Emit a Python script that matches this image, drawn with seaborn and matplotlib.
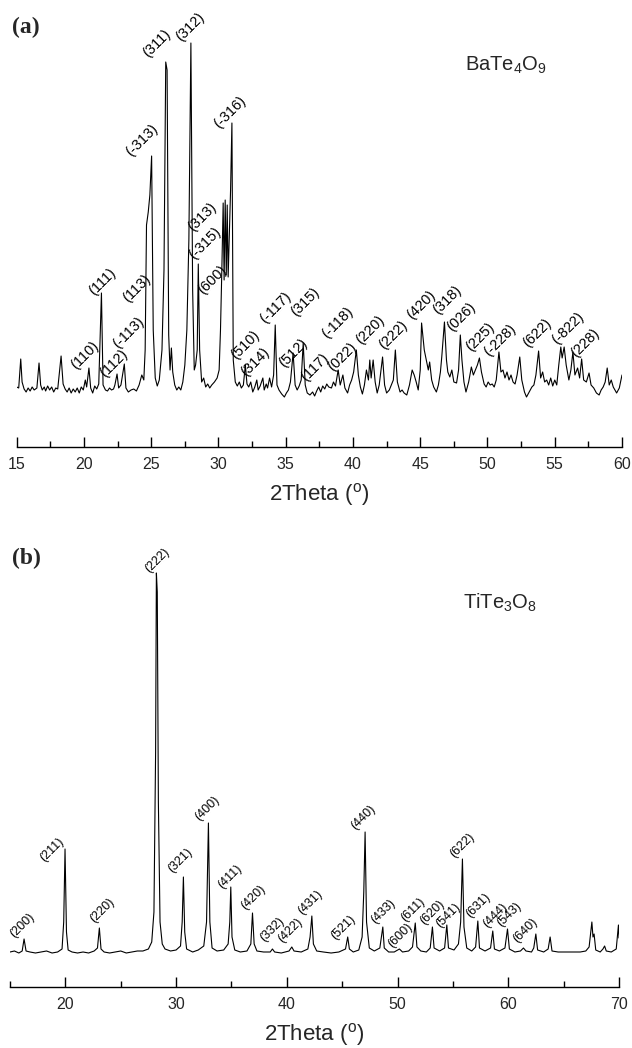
import matplotlib
matplotlib.use("Agg")
import matplotlib.pyplot as plt
import seaborn as sns
import pandas as pd
from matplotlib.ticker import MultipleLocator, FixedLocator

# ---------------- data: panel (a) BaTe4O9 ----------------
a_theta = [15.0, 15.15, 15.3, 15.4, 15.55, 15.7, 15.85, 16.0, 16.15, 16.3, 16.5, 16.66, 16.78, 16.9,
           17.05, 17.15, 17.3, 17.45, 17.6, 17.75, 17.9, 18.05, 18.3, 18.45, 18.6, 18.75, 18.9, 19.05,
           19.2, 19.35, 19.5, 19.65, 19.8, 19.95, 20.1, 20.2, 20.37, 20.5, 20.65, 20.8, 20.95, 21.1,
           21.3, 21.42, 21.6, 21.75, 21.9, 22.05, 22.2, 22.3, 22.46, 22.58, 22.75, 23.0, 23.12, 23.3,
           23.5, 23.7, 23.9, 24.1, 24.3, 24.45, 24.55, 24.65, 24.78, 24.9, 25.03, 25.15, 25.3, 25.45,
           25.6, 25.8, 25.95, 26.08, 26.18, 26.3, 26.4, 26.5, 26.6, 26.75, 26.9, 27.05, 27.2, 27.35,
           27.5, 27.65, 27.8, 27.95, 28.08, 28.2, 28.3, 28.42, 28.5, 28.6, 28.75, 28.9, 29.05, 29.2,
           29.35, 29.5, 29.7, 29.9, 30.05, 30.15, 30.25, 30.35, 30.42, 30.5, 30.58, 30.65, 30.72, 30.8,
           30.9, 31.0, 31.1, 31.25, 31.4, 31.55, 31.7, 31.85, 32.0, 32.12, 32.25, 32.4, 32.55, 32.7,
           32.85, 32.95, 33.1, 33.3, 33.4, 33.55, 33.65, 33.8, 33.95, 34.1, 34.22, 34.35, 34.5, 34.7,
           34.9, 35.05, 35.2, 35.35, 35.55, 35.7, 35.85, 36.0, 36.15, 36.3, 36.45, 36.6, 36.8, 37.0,
           37.15, 37.3, 37.45, 37.6, 37.75, 37.9, 38.05, 38.2, 38.4, 38.55, 38.7, 38.9, 39.05, 39.25,
           39.4, 39.6, 39.75, 39.9, 40.05, 40.25, 40.4, 40.55, 40.7, 40.85, 41.0, 41.15, 41.25, 41.35,
           41.5, 41.65, 41.8, 41.95, 42.2, 42.35, 42.5, 42.7, 42.85, 43.0, 43.15, 43.3, 43.5, 43.65,
           43.8, 44.0, 44.2, 44.4, 44.55, 44.7, 44.85, 45.0, 45.1, 45.3, 45.45, 45.6, 45.7, 45.85,
           46.0, 46.2, 46.35, 46.5, 46.6, 46.8, 46.95, 47.05, 47.2, 47.35, 47.5, 47.7, 47.85, 47.98,
           48.1, 48.25, 48.4, 48.6, 48.8, 48.95, 49.1, 49.25, 49.4, 49.55, 49.75, 49.9, 50.05, 50.2,
           50.35, 50.5, 50.65, 50.85, 51.0, 51.15, 51.3, 51.45, 51.6, 51.75, 51.9, 52.05, 52.2, 52.4,
           52.55, 52.75, 52.9, 53.1, 53.3, 53.45, 53.6, 53.8, 53.95, 54.1, 54.25, 54.4, 54.55, 54.7,
           54.85, 55.0, 55.15, 55.3, 55.45, 55.55, 55.7, 55.85, 56.05, 56.2, 56.35, 56.5, 56.7, 56.85,
           57.0, 57.15, 57.35, 57.55, 57.7, 57.9, 58.1, 58.3, 58.45, 58.6, 58.75, 58.9, 59.05, 59.2,
           59.35, 59.6, 59.8, 60.0]
a_int = [3, 2, 31, 8, 1, -2, 2, -1, 3, 0, 2, 27, 5, 0,
         3, -1, 4, 0, 3, -2, 2, 1, 34, 6, 1, -2, 2, -3,
         1, -2, 2, -3, 3, 0, 10, 3, 22, 2, -3, 4, 1, 6,
         97, 5, 0, -1, 2, 0, 1, 5, 16, 2, 5, 26, 2, -2,
         0, 1, -1, 5, 15, 10, 40, 165, 178, 195, 234, 60, 12, 4,
         10, 40, 120, 328, 320, 55, 20, 42, 18, 5, 0, 3, 0, 8,
         25, 60, 150, 347, 100, 20, 25, 40, 126, 40, 8, 12, 3, 6,
         2, 5, 8, 12, 20, 60, 120, 187, 110, 190, 115, 185, 113, 150,
         200, 267, 30, 8, 4, 8, 2, 5, 25, 6, 3, 8, -2, 3,
         10, 0, 4, 12, 0, 6, 2, 12, 3, 15, 65, 5, 0, -4,
         -7, -3, 0, 8, 37, 5, 0, 4, 10, 47, 5, -3, -5, -2,
         -6, -1, 3, -2, 4, 1, 6, 3, 2, 8, 4, 20, 5, 15,
         2, -3, 5, 10, 18, 40, 15, 3, -4, 5, 20, 10, 30, 12,
         30, 8, -3, 5, 33, 5, -3, 0, 5, 10, 40, 8, -2, 0,
         -3, -5, 5, 20, 15, 8, 0, 20, 67, 40, 30, 20, 28, 10,
         3, -2, 5, 18, 33, 68, 30, 18, 13, 20, 8, 7, 20, 55,
         30, 8, -2, 8, 23, 15, 20, 25, 32, 18, 6, 3, 8, 5,
         6, 3, 10, 38, 18, 20, 12, 18, 10, 15, 8, 6, 15, 33,
         10, -2, -7, -2, 3, 5, 15, 39, 12, 18, 8, 10, 5, 12,
         4, 10, 5, 25, 43, 32, 43, 25, 10, 20, 38, 15, 22, 12,
         31, 10, 8, 17, 5, 2, -3, -5, 0, 3, 8, 22, 5, 10,
         3, -3, 2, 15]

a_labels = ["(110)", "(111)", "(112)", "(-113)", "(113)", "(-313)", "(311)", "(312)", "(313)",
            "(-315)", "(600)", "(-316)", "(510)", "(314)", "(-117)", "(512)", "(315)", "(117)",
            "(-118)", "(022)", "(220)", "(222)", "(420)", "(318)", "(026)", "(225)", "(-228)",
            "(622)", "(-822)", "(228)"]
a_lab_x = [20.07, 21.34, 22.23, 23.28, 23.94, 24.31, 25.42, 27.87, 28.77, 28.99, 29.58, 30.84,
           31.96, 32.7, 34.27, 35.53, 36.42, 37.16, 38.87, 39.24, 41.25, 42.96, 45.05, 46.98,
           48.02, 49.43, 50.92, 53.67, 55.97, 57.23]
a_lab_y = [35, 108, 27, 57, 102, 250, 347, 363, 173, 147, 110, 278, 45, 28, 82, 37, 88, 23,
           67, 33, 60, 55, 85, 90, 73, 53, 50, 57, 62, 47]

# ---------------- data: panel (b) TiTe3O8 ----------------
b_theta = [15.0, 15.4, 15.8, 16.1, 16.27, 16.45, 16.8, 17.3, 17.8, 18.3, 18.8, 19.3, 19.7, 19.85,
           19.97, 20.1, 20.25, 20.6, 21.1, 21.6, 22.1, 22.6, 22.9, 23.07, 23.22, 23.5, 24.0, 24.5,
           25.0, 25.5, 26.0, 26.5, 27.0, 27.5, 27.8, 28.0, 28.15, 28.22, 28.3, 28.4, 28.55, 28.75,
           29.0, 29.5, 30.0, 30.4, 30.55, 30.66, 30.78, 30.95, 31.5, 32.0, 32.5, 32.75, 32.92, 33.05,
           33.25, 33.7, 34.3, 34.7, 34.85, 34.94, 35.05, 35.3, 35.8, 36.4, 36.75, 36.9, 37.05, 37.3,
           37.9, 38.5, 38.7, 38.9, 39.5, 40.2, 40.45, 40.65, 41.3, 41.9, 42.1, 42.26, 42.4, 42.7,
           43.3, 44.0, 44.7, 45.3, 45.5, 45.65, 46.0, 46.5, 46.8, 46.95, 47.07, 47.2, 47.45, 47.9,
           48.4, 48.67, 48.8, 49.2, 49.7, 50.17, 50.45, 51.0, 51.35, 51.6, 51.75, 52.1, 52.6, 52.95,
           53.15, 53.3, 53.8, 54.25, 54.45, 54.6, 55.1, 55.5, 55.7, 55.86, 56.0, 56.25, 56.7, 57.05,
           57.25, 57.4, 57.9, 58.4, 58.6, 58.75, 59.2, 59.7, 59.93, 60.1, 60.6, 61.1, 61.37, 61.6,
           62.1, 62.3, 62.49, 62.65, 63.2, 63.6, 63.78, 63.95, 64.5, 65.0, 65.5, 66.0, 66.5, 67.0,
           67.3, 67.55, 67.65, 67.75, 67.9, 68.3, 68.55, 68.7, 68.85, 69.3, 69.75, 69.95, 70.0]
b_int = [0, 1, -1, 1, 13, 1, 0, -1, 0, 1, -1, 0, 3, 30,
         103, 20, 2, 0, -1, 0, -1, 1, 4, 24, 3, 0, -1, 0,
         1, -1, 0, 1, 1, 3, 10, 40, 200, 379, 360, 150, 30, 8,
         3, 1, 2, 6, 30, 75, 20, 3, 0, 2, 6, 30, 129, 30,
         4, 1, 2, 8, 30, 65, 15, 2, 0, 1, 8, 39, 8, 1,
         0, 0, 3, 0, -1, 1, 5, 1, 0, 3, 15, 36, 8, 1,
         0, -1, 0, 3, 15, 3, 0, 2, 15, 60, 120, 30, 4, 1,
         4, 25, 4, 0, 0, 3, 0, 1, 5, 29, 5, 1, 0, 4,
         25, 4, 1, 4, 27, 4, 2, 8, 30, 93, 25, 4, 1, 5,
         31, 4, 1, 4, 21, 3, 1, 4, 23, 3, 0, 1, 4, 1,
         0, 4, 18, 2, 0, 3, 15, 1, 0, 0, 0, 0, 0, 1,
         5, 30, 15, 18, 2, 0, 3, 6, 1, 0, 3, 27, 14]

b_labels = ["(200)", "(211)", "(220)", "(222)", "(321)", "(400)", "(411)", "(420)", "(332)",
            "(422)", "(431)", "(521)", "(440)", "(433)", "(600)", "(611)", "(620)", "(541)",
            "(622)", "(631)", "(444)", "(543)", "(640)"]
b_lab_x = [16.09, 18.8, 23.32, 28.28, 30.36, 32.8, 34.88, 36.96, 38.67, 40.3, 42.1, 45.08,
           46.89, 48.7, 50.24, 51.41, 53.13, 54.57, 55.84, 57.28, 58.82, 60.08, 61.53]
b_lab_y = [27, 102, 42, 392, 92, 144, 75, 55, 22, 22, 50, 25, 135, 40, 17, 42, 40, 37, 107,
           47, 37, 37, 22]

# ---------------- styling ----------------
sns.set_theme(style="white")
plt.rcParams["font.family"] = ["Liberation Sans", "DejaVu Sans"]
plt.rcParams["mathtext.fontset"] = "custom"
plt.rcParams["mathtext.rm"] = "Liberation Sans"
plt.rcParams["mathtext.it"] = "Liberation Sans"
plt.rcParams["mathtext.default"] = "regular"

W, H = 632, 1048
fig = plt.figure(figsize=(W / 100, H / 100), dpi=100)
fig.patch.set_facecolor("white")


def px_axes(left, right, top, bottom):
    return fig.add_axes([left / W, 1 - bottom / H, (right - left) / W, (bottom - top) / H])


ax1 = px_axes(16.7, 622, 20, 447)
ax2 = px_axes(10, 619, 545, 987)

df_a = pd.DataFrame({"theta": a_theta, "I": a_int})
df_b = pd.DataFrame({"theta": b_theta, "I": b_int})
sns.lineplot(data=df_a, x="theta", y="I", ax=ax1, color="black", linewidth=0.8,
             sort=False, estimator=None)
sns.lineplot(data=df_b, x="theta", y="I", ax=ax2, color="black", linewidth=0.8,
             sort=False, estimator=None)

ax1.set_xlim(15, 60)
ax1.set_ylim(-57, 370)
ax2.set_xlim(15, 70)
ax2.set_ylim(-35, 407)

for ax in (ax1, ax2):
    ax.set_facecolor("white")
    for s in ("top", "right", "left"):
        ax.spines[s].set_visible(False)
    ax.spines["bottom"].set_color("black")
    ax.spines["bottom"].set_linewidth(1.0)
    ax.set_yticks([])
    ax.set_ylabel("")
    ax.tick_params(axis="x", which="major", direction="in", length=7, width=1.0,
                   color="black", labelsize=11.5, pad=7, bottom=True)
    ax.tick_params(axis="x", which="minor", direction="in", length=4, width=1.0,
                   color="black", bottom=True)
    ax.set_xlabel("2Theta ($^{o}$)", fontsize=16, labelpad=7)

ax1.xaxis.set_major_locator(MultipleLocator(5))
ax1.xaxis.set_minor_locator(MultipleLocator(2.5))
ax2.xaxis.set_major_locator(FixedLocator([20, 30, 40, 50, 60, 70]))
ax2.xaxis.set_minor_locator(FixedLocator([15, 25, 35, 45, 55, 65]))

for t, x, y in zip(a_labels, a_lab_x, a_lab_y):
    ax1.text(x, y, t, rotation=45, ha="center", va="center", rotation_mode="anchor",
             fontsize=10.5, color="black")
for t, x, y in zip(b_labels, b_lab_x, b_lab_y):
    ax2.text(x, y, t, rotation=45, ha="center", va="center", rotation_mode="anchor",
             fontsize=9, color="black")

fig.text(465 / W, 1 - 65 / H, "BaTe$_4$O$_9$", fontsize=14.5, ha="left", va="center")
fig.text(463 / W, 1 - 603 / H, "TiTe$_3$O$_8$", fontsize=14.5, ha="left", va="center")
fig.text(12 / W, 1 - 27 / H, "(a)", fontsize=17, fontweight="bold", ha="left", va="center",
         family=["Liberation Serif", "DejaVu Serif"])
fig.text(12 / W, 1 - 558 / H, "(b)", fontsize=17, fontweight="bold", ha="left", va="center",
         family=["Liberation Serif", "DejaVu Serif"])

fig.savefig("out.png", dpi=100, facecolor="white")
